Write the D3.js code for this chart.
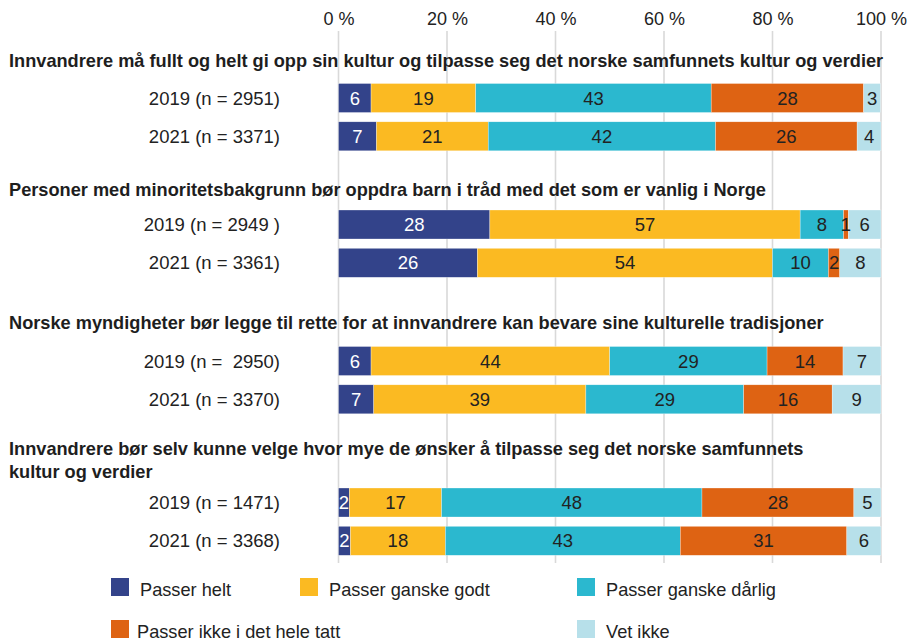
<!DOCTYPE html>
<html>
<head>
<meta charset="utf-8">
<script src="https://cdn.jsdelivr.net/npm/d3@7"></script>
<style>
  html, body { margin: 0; padding: 0; background: #fff; }
  svg { display: block; font-family: "Liberation Sans", Arial, sans-serif; }
  text { white-space: pre; }
</style>
</head>
<body>
<svg id="chart" width="916" height="640"></svg>
<script>
// ---- DATA ----
const questions = [
  ["Innvandrere må fullt og helt gi opp sin kultur og tilpasse seg det norske samfunnets kultur og verdier"],
  ["Personer med minoritetsbakgrunn bør oppdra barn i tråd med det som er vanlig i Norge"],
  ["Norske myndigheter bør legge til rette for at innvandrere kan bevare sine kulturelle tradisjoner"],
  ["Innvandrere bør selv kunne velge hvor mye de ønsker å tilpasse seg det norske samfunnets", "kultur og verdier"]
];
const rowLabels = [
  "2019 (n = 2951)", "2021 (n = 3371)",
  "2019 (n = 2949 )", "2021 (n = 3361)",
  "2019 (n =  2950)", "2021 (n = 3370)",
  "2019 (n = 1471)", "2021 (n = 3368)"
];
const rowGroup = [0, 0, 1, 1, 2, 2, 3, 3];
const seriesNames = ["Passer helt", "Passer ganske godt", "Passer ganske dårlig", "Passer ikke i det hele tatt", "Vet ikke"];
const passerHelt         = [6.0, 7.0, 27.9, 25.6, 6.0, 6.5, 2.0, 2.2];
const passerGanskeGodt   = [19.3, 20.6, 57.2, 54.4, 44.0, 39.1, 17.0, 17.5];
const passerGanskeDarlig = [43.4, 41.9, 8.0, 10.3, 29.0, 29.1, 48.0, 43.3];
const passerIkke         = [28.1, 26.1, 0.9, 2.1, 14.0, 16.3, 28.0, 30.7];
const vetIkke            = [3.1, 4.4, 6.0, 7.6, 7.0, 9.0, 5.0, 6.3];
const tickValues = [0, 20, 40, 60, 80, 100];

// ---- STYLE ----
const colors = ["#33438a", "#fbba22", "#2bb8cf", "#de6313", "#b7e0ea"];
const labelColors = ["#ffffff", "#222222", "#222222", "#222222", "#222222"];

const seriesValues = [passerHelt, passerGanskeGodt, passerGanskeDarlig, passerIkke, vetIkke];
const rows = rowLabels.map((lab, i) => {
  const o = { label: lab, group: rowGroup[i], idx: i };
  seriesNames.forEach((s, k) => o[s] = seriesValues[k][i]);
  return o;
});
const stacked = d3.stack().keys(seriesNames)(rows);

const svg = d3.select("#chart");
const x = d3.scaleLinear().domain([0, 100]).range([338.5, 881]);
// layout anchors per question group
const groupBarY = d3.scaleLinear().domain([0, 1, 2, 3]).range([98, 224.5, 361, 502.5]);
const groupTitleY = d3.scaleLinear().domain([0, 1, 2, 3]).range([67, 196, 329, 455]);
const barPitch = 38.3, barH = 29;
const rowY = i => {
  const g = rowGroup[i];
  const j = rowGroup.slice(0, i).filter(v => v === g).length;
  return groupBarY(g) + j * barPitch;
};

// gridlines
svg.append("g").selectAll("line").data(tickValues).join("line")
  .attr("x1", d => x(d)).attr("x2", d => x(d))
  .attr("y1", 31).attr("y2", 563)
  .attr("stroke", "#d9d9d9").attr("stroke-width", 1.6);

// axis tick labels (top)
const axis = d3.axisTop(x).tickValues(tickValues).tickFormat(d => d + " %").tickSize(0).tickPadding(0);
const ax = svg.append("g").attr("transform", "translate(0,25)").call(axis);
ax.select(".domain").remove();
ax.selectAll("text").attr("font-size", 18).attr("fill", "#222").attr("dy", 0)
  .attr("font-family", "'Liberation Sans', Arial, sans-serif");

// question titles
questions.forEach((lines, g) => {
  lines.forEach((ln, k) => {
    svg.append("text")
      .attr("x", 9).attr("y", groupTitleY(g) + k * 23)
      .attr("font-size", 18.2).attr("font-weight", "bold").attr("fill", "#1e1e1e")
      .text(ln);
  });
});

// row labels
svg.append("g").selectAll("text").data(rows).join("text")
  .attr("x", 280).attr("y", d => rowY(d.idx) + 6.5)
  .attr("text-anchor", "end").attr("font-size", 18.5).attr("fill", "#222")
  .text(d => d.label);

// bars
const layers = svg.append("g").selectAll("g").data(stacked).join("g")
  .attr("fill", (d, k) => colors[k]);
layers.selectAll("rect").data(d => d).join("rect")
  .attr("x", d => x(d[0])).attr("width", d => x(d[1]) - x(d[0]))
  .attr("y", d => rowY(d.data.idx) - barH / 2).attr("height", barH)
  .attr("stroke", "#ffffff").attr("stroke-width", 0.5).attr("stroke-opacity", 0.6);

// segment labels
svg.append("g").selectAll("g").data(stacked).join("g")
  .attr("fill", (d, k) => labelColors[k])
  .selectAll("text").data(d => d).join("text")
  .attr("x", d => (x(d[0]) + x(d[1])) / 2)
  .attr("y", d => rowY(d.data.idx) + 6.5)
  .attr("text-anchor", "middle").attr("font-size", 18.5)
  .text(d => Math.round(d[1] - d[0]));

// legend
const legendX = [111, 300, 577, 111, 577];
const legendRow = [0, 0, 0, 1, 1];
const legendY = d3.scaleLinear().domain([0, 1]).range([578, 620]);
const lg = svg.append("g").selectAll("g").data(seriesNames).join("g")
  .attr("transform", (d, k) => `translate(${legendX[k]},${legendY(legendRow[k])})`);
lg.append("rect").attr("width", 18).attr("height", 18).attr("fill", (d, k) => colors[k]);
lg.append("text").attr("x", (d, k) => k === 3 ? 26 : 29).attr("y", 18)
  .attr("font-size", 18.2).attr("fill", "#222").text(d => d);
</script>
</body>
</html>
